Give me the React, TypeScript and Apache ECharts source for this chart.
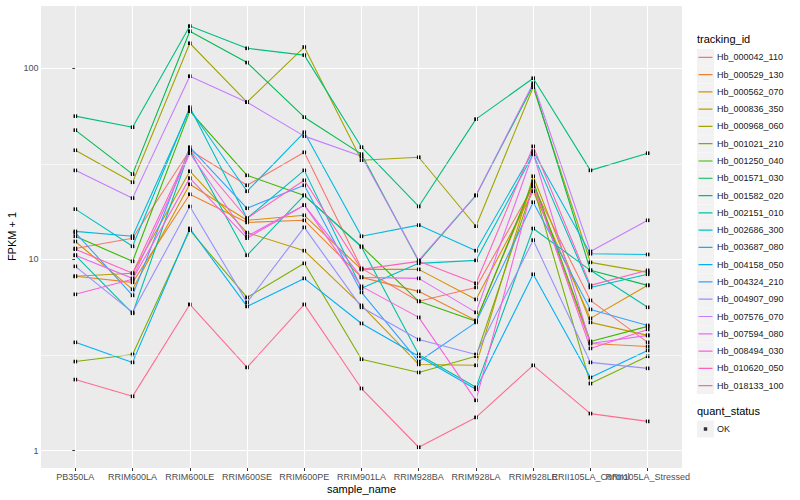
import React, { useEffect, useRef } from "react";
import * as echarts from "echarts";

const sampleNames = [
  "PB350LA", "RRIM600LA", "RRIM600LE", "RRIM600SE", "RRIM600PE", "RRIM901LA",
  "RRIM928BA", "RRIM928LA", "RRIM928LE", "RRII105LA_Control", "RRII105LA_Stressed",
];

const trackingIds = [
  "Hb_000042_110", "Hb_000529_130", "Hb_000562_070", "Hb_000836_350", "Hb_000968_060",
  "Hb_001021_210", "Hb_001250_040", "Hb_001571_030", "Hb_001582_020", "Hb_002151_010",
  "Hb_002686_300", "Hb_003687_080", "Hb_004158_050", "Hb_004324_210", "Hb_004907_090",
  "Hb_007576_070", "Hb_007594_080", "Hb_008494_030", "Hb_010620_050", "Hb_018133_100",
];

// FPKM + 1 per sample, one array per tracking id
const hb000042 = [11.4, 12.9, 37.2, 24.4, 36.3, 8.97, 6.03, 7.13, 24.1, 6.1, 3.68];
const hb000529 = [8.15, 7.58, 21.9, 15.6, 16.0, 8.05, 6.8, 4.79, 24.7, 3.63, 3.5];
const hb000562 = [12.4, 6.97, 24.7, 16.0, 17.0, 8.86, 8.86, 6.17, 22.7, 4.91, 7.31];
const hb000836 = [8.15, 8.45, 28.9, 13.8, 11.1, 5.74, 2.82, 2.79, 27.2, 4.68, 4.0];
const hb000968 = [37.2, 25.3, 135, 66.4, 129, 33.0, 34.2, 14.9, 79.5, 9.64, 8.55];
const hb001021 = [2.92, 3.18, 14.2, 6.32, 9.53, 3.0, 2.56, 3.11, 24.1, 2.24, 3.11];
const hb001250 = [13.2, 9.76, 59.6, 27.5, 21.6, 11.7, 6.03, 4.74, 25.6, 3.72, 4.46];
const hb001571 = [47.4, 27.9, 156, 107, 55.4, 35.5, 9.76, 21.6, 81.5, 8.76, 7.31];
const hb001582 = [56.1, 49.1, 166, 127, 117, 38.6, 18.9, 54.1, 88.6, 29.2, 35.9];
const hb002151 = [10.5, 5.22, 37.2, 10.5, 21.6, 11.6, 3.18, 2.14, 14.5, 8.76, 5.61];
const hb002686 = [18.3, 11.7, 62.5, 16.4, 29.2, 7.05, 9.53, 9.88, 35.5, 7.13, 8.35];
const hb003687 = [14.0, 13.2, 61.0, 22.7, 46.2, 13.2, 15.1, 11.1, 36.8, 10.7, 10.6];
const hb004158 = [3.68, 2.89, 14.5, 5.67, 7.95, 4.62, 3.11, 2.09, 8.35, 2.41, 3.34];
const hb004324 = [13.8, 6.48, 38.6, 18.5, 24.4, 6.72, 2.92, 4.68, 19.9, 5.47, 4.51];
const hb004907 = [9.19, 5.28, 18.9, 5.95, 14.7, 5.61, 3.81, 3.18, 12.6, 2.89, 2.69];
const hb007576 = [29.2, 20.9, 90.8, 66.4, 44.1, 34.6, 9.88, 21.6, 83.4, 11.0, 16.0];
const hb007594 = [10.5, 7.95, 35.9, 13.2, 19.2, 8.05, 7.95, 5.28, 35.9, 3.63, 4.0];
const hb008494 = [6.56, 7.86, 26.6, 12.9, 19.2, 7.22, 4.97, 1.83, 24.7, 3.42, 4.3];
const hb010620 = [11.3, 8.45, 37.2, 16.4, 25.9, 8.86, 9.76, 7.49, 39.0, 7.31, 8.76];
const hb018133 = [2.35, 1.92, 5.81, 2.72, 5.81, 2.11, 1.04, 1.49, 2.79, 1.56, 1.42];

const seriesValues = [
  hb000042, hb000529, hb000562, hb000836, hb000968, hb001021, hb001250, hb001571,
  hb001582, hb002151, hb002686, hb003687, hb004158, hb004324, hb004907, hb007576,
  hb007594, hb008494, hb010620, hb018133,
];

const yTickValues = [1, 10, 100];
const yMinorValues = [3.1623, 31.623];
const quantStatus = ["OK"];

const seriesColors = [
  "#F8766D", "#EA8331", "#D89000", "#C09B00", "#A3A500", "#7CAE00", "#39B600", "#00BB4E",
  "#00BF7D", "#00C1A3", "#00BFC4", "#00BAE0", "#00B0F6", "#35A2FF", "#9590FF", "#C77CFF",
  "#E76BF3", "#FA62DB", "#FF62BC", "#FF6C91",
];

const FONT = '"Liberation Sans", Arial, Helvetica, sans-serif';

export default function App() {
  const ref = useRef<HTMLDivElement>(null);

  useEffect(() => {
    if (!ref.current) return;
    const chart = echarts.init(ref.current, null, { renderer: "svg" });

    const gridLeft = 41;
    const gridTop = 5;
    const gridRight = 118;
    const gridBottom = 32;

    const legendTop = 48.8;
    const rowH = 17.28;

    const idx = sampleNames.map((_, j) => j);
    const evenIdx = idx.filter((j) => j % 2 === 0);
    const oddIdx = idx.filter((j) => j % 2 === 1);

    const lineSeries = trackingIds.map((id, i) => ({
      name: id,
      type: "line",
      z: 2,
      data: seriesValues[i].map((v, j) => [j, v]),
      symbol: "rect",
      symbolSize: 3.6,
      showSymbol: true,
      lineStyle: { color: seriesColors[i], width: 1.1 },
      itemStyle: { color: "#000" },
      emphasis: { disabled: true },
    }));

    const gridSeries = {
      name: "__grid",
      type: "line",
      z: 1,
      data: [],
      silent: true,
      markLine: {
        silent: true,
        symbol: "none",
        label: { show: false },
        animation: false,
        data: [
          ...idx.map((j) => ({ xAxis: j, lineStyle: { color: "#fff", width: 1.1, type: "solid" } })),
          ...yMinorValues.map((v) => ({ yAxis: v, lineStyle: { color: "#fff", width: 0.55, type: "solid" } })),
        ],
      },
    };

    const okSeries = {
      name: quantStatus[0],
      type: "scatter",
      data: [],
      itemStyle: { color: "#000" },
    };

    const keyRects = trackingIds.map((_, i) => ({
      type: "rect",
      z: 0,
      shape: { x: 697, y: legendTop + i * rowH, width: 17, height: 17 },
      style: { fill: "#F2F2F2" },
    }));

    const xLabelBase = {
      formatter: (v: number) => sampleNames[Math.round(v)] ?? "",
      fontSize: 9,
      color: "#4D4D4D",
      margin: 4,
      hideOverlap: false,
      fontFamily: FONT,
    };

    const option = {
      animation: false,
      backgroundColor: "#fff",
      textStyle: { fontFamily: FONT },
      grid: {
        left: gridLeft,
        top: gridTop,
        right: gridRight,
        bottom: gridBottom,
        containLabel: false,
        outerBoundsMode: "none",
        show: true,
        backgroundColor: "#EBEBEB",
        borderWidth: 0,
      },
      xAxis: [
        {
          type: "value",
          min: -0.6,
          max: 10.6,
          position: "bottom",
          name: "sample_name",
          nameLocation: "middle",
          nameGap: 15,
          nameMoveOverlap: false,
          nameTextStyle: { fontSize: 11, color: "#000", fontFamily: FONT },
          axisLine: { show: false },
          splitLine: { show: false },
          axisTick: { show: true, length: 3, lineStyle: { color: "#333" }, customValues: evenIdx },
          axisLabel: { ...xLabelBase, customValues: evenIdx },
        },
        {
          type: "value",
          min: -0.6,
          max: 10.6,
          position: "bottom",
          offset: 0,
          axisLine: { show: false },
          splitLine: { show: false },
          axisTick: { show: true, length: 3, lineStyle: { color: "#333" }, customValues: oddIdx },
          axisLabel: { ...xLabelBase, customValues: oddIdx },
        },
      ],
      yAxis: {
        type: "log",
        logBase: 10,
        min: 0.81,
        max: 214,
        name: "FPKM + 1",
        nameLocation: "middle",
        nameGap: 24,
        nameRotate: 90,
        nameMoveOverlap: false,
        nameTextStyle: { fontSize: 11, color: "#000", fontFamily: FONT },
        axisLine: { show: false },
        axisTick: { show: true, length: 3, lineStyle: { color: "#333" } },
        axisLabel: {
          fontSize: 9,
          color: "#4D4D4D",
          margin: 2.5,
          showMinLabel: false,
          showMaxLabel: false,
          fontFamily: FONT,
          formatter: (v: number) => {
            const hit = yTickValues.find((t) => Math.abs(t - v) / t < 1e-6);
            return hit !== undefined ? String(hit) : "";
          },
        },
        splitLine: { show: true, lineStyle: { color: "#fff", width: 1.1 } },
        minorSplitLine: { show: false },
      },
      legend: [
        {
          data: trackingIds.map((id, i) => ({
            name: id,
            itemStyle: { color: seriesColors[i], borderWidth: 0 },
          })),
          orient: "vertical",
          left: 697,
          top: legendTop,
          padding: 0,
          itemWidth: 17,
          itemHeight: 17,
          itemGap: rowH - 17,
          icon: "path://M0,0L17,0ZM0,17L17,17ZM1.5,7.9L15.5,7.9L15.5,9.1L1.5,9.1Z",
          itemStyle: { borderWidth: 0 },
          textStyle: { fontSize: 9, color: "#1A1A1A", fontFamily: FONT, padding: [0, 0, 0, -2] },
          selectedMode: false,
        },
        {
          data: quantStatus.map((q) => ({ name: q, itemStyle: { color: "#000", borderWidth: 0 } })),
          orient: "vertical",
          left: 697,
          top: 420.5,
          padding: 0,
          itemWidth: 17,
          itemHeight: 17,
          icon: "path://M0,0L17,0ZM0,17L17,17ZM6.8,6.8L10.2,6.8L10.2,10.2L6.8,10.2Z",
          itemStyle: { borderWidth: 0 },
          textStyle: { fontSize: 9, color: "#1A1A1A", fontFamily: FONT, padding: [0, 0, 0, -2] },
          selectedMode: false,
        },
      ],
      graphic: [
        ...keyRects,
        {
          type: "rect",
          z: 0,
          shape: { x: 697, y: 420.5, width: 17, height: 17 },
          style: { fill: "#F2F2F2" },
        },
        {
          type: "text",
          left: 697,
          top: 33,
          style: { text: "tracking_id", fontSize: 11, fill: "#000", fontFamily: FONT },
        },
        {
          type: "text",
          left: 697,
          top: 405,
          style: { text: "quant_status", fontSize: 11, fill: "#000", fontFamily: FONT },
        },
      ],
      series: [gridSeries, ...lineSeries, okSeries],
    };

    chart.setOption(option as any);
    return () => chart.dispose();
  }, []);

  return (
    <div
      ref={ref}
      style={{ position: "fixed", left: 0, top: 0, width: 800, height: 500 }}
    />
  );
}
